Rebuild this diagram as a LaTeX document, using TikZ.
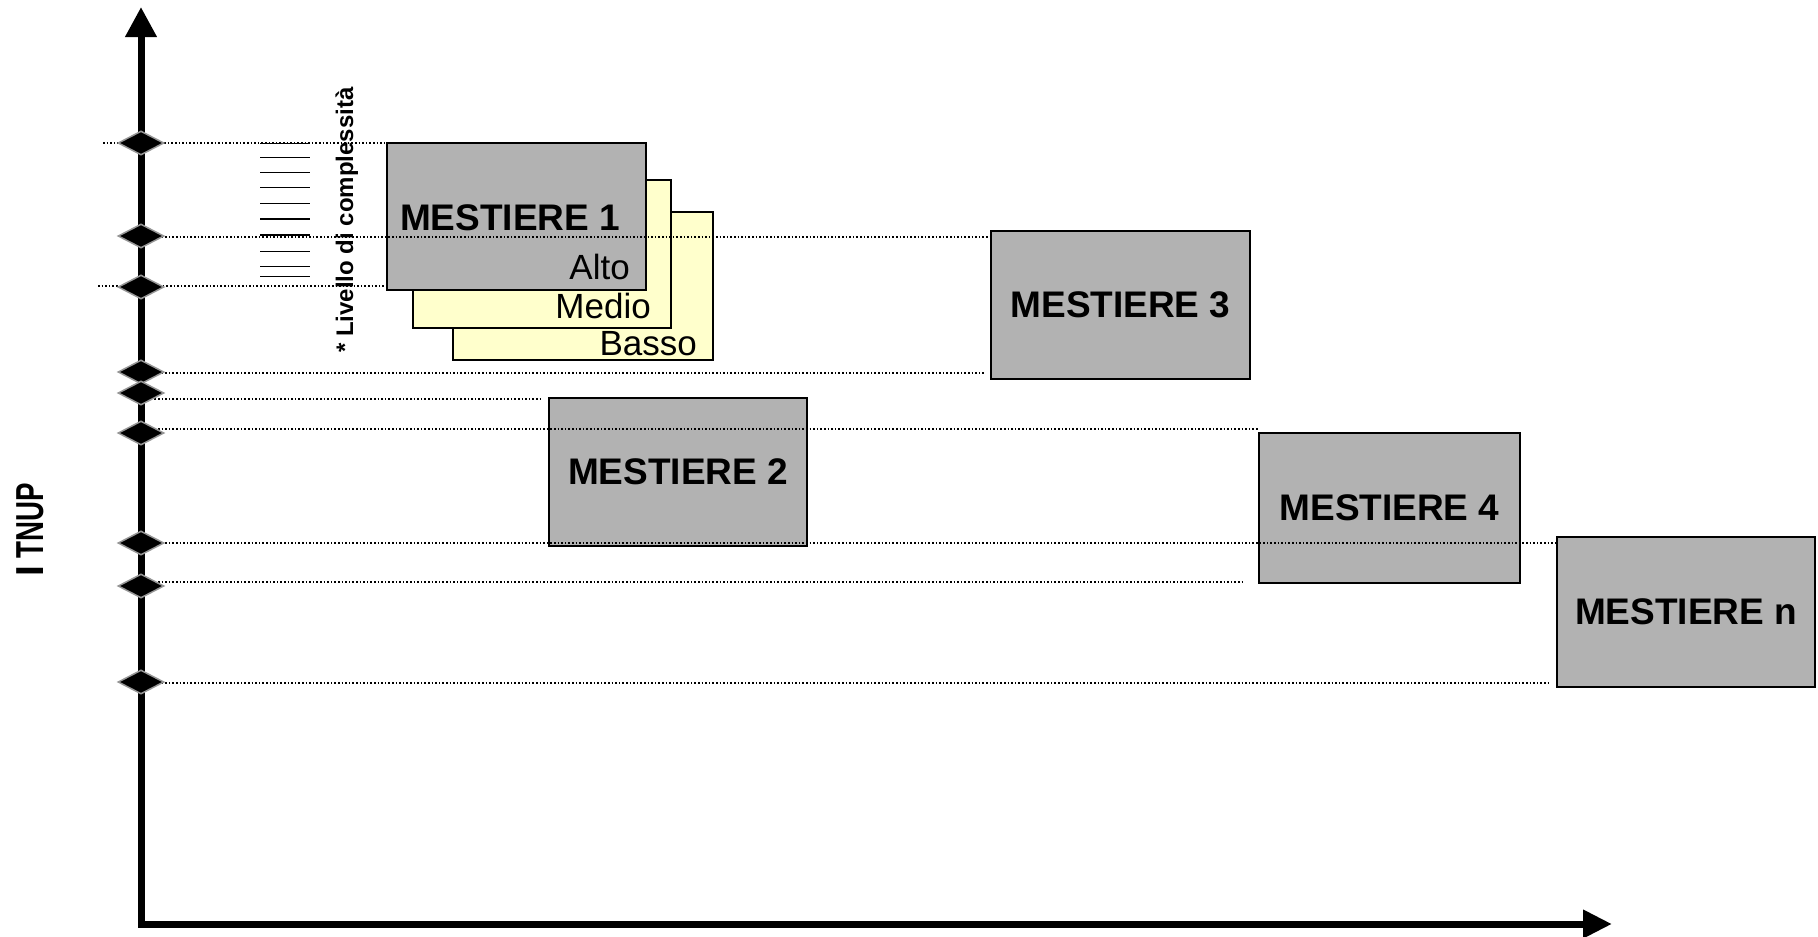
\documentclass[tikz,border=0pt]{standalone}
\usepackage{fontspec}
\usepackage{graphicx}
\setmainfont{Liberation Sans}
\usetikzlibrary{arrows.meta,shapes.geometric}
\definecolor{jobgray}{RGB}{178,178,178}
\definecolor{lvlyellow}{RGB}{255,255,204}
\definecolor{rimgray}{RGB}{150,150,150}
\begin{document}
\begin{tikzpicture}[x=1pt,y=-1pt,
  job/.style={draw=black, line width=2pt, fill=jobgray, anchor=north west, inner sep=0pt,
    font=\fontsize{37}{37}\selectfont\bfseries},
  lvl/.style={draw=black, line width=1.6pt, fill=lvlyellow, anchor=north west, inner sep=0pt},
  lvltxt/.style={anchor=base east, inner sep=0pt, font=\fontsize{35}{35}\selectfont},
  guide/.style={line width=1.5pt, dash pattern=on 1.5pt off 2.1pt},
  tickline/.style={line width=1.5pt},
  rombo/.style={diamond, draw=rimgray, line width=1.5pt, fill=black, minimum width=46pt,
    minimum height=24pt, inner sep=0pt},
]
\useasboundingbox (0,0) rectangle (1818,937);

% level cards behind MESTIERE 1
\node[lvl, minimum width=260pt, minimum height=148pt] (basso) at (452,211) {};
\node[lvl, minimum width=258pt, minimum height=148pt] (medio) at (412,179) {};
\node[job, minimum width=259pt, minimum height=147pt] (m1) at (386,142) {};
\node[font=\fontsize{37}{37}\selectfont\bfseries, anchor=base, inner sep=0pt] (m1t) at (510,230) {MESTIERE 1};
\node[lvltxt] (altot) at (630,279) {Alto};
\node[lvltxt] (mediot) at (651,318) {Medio};
\node[lvltxt] (bassot) at (697,355) {Basso};

% other jobs
\node[job, minimum width=258pt, minimum height=148pt] (m2) at (548,397) {MESTIERE 2};
\node[job, minimum width=259pt, minimum height=148pt] (m3) at (990,230) {MESTIERE 3};
\node[job, minimum width=261pt, minimum height=150pt] (m4) at (1258,432) {MESTIERE 4};
\node[job, minimum width=258pt, minimum height=150pt] (mn) at (1556,536) {MESTIERE n};

% guide line end points
\coordinate (g1a) at (103,143);  \coordinate (g1b) at (m1.west |- g1a);
\coordinate (g2a) at (140,237);  \coordinate (g2b) at (m3.west |- g2a);
\coordinate (g3a) at (98,286);   \coordinate (g3b) at (m1.west |- g3a);
\coordinate (g4a) at (140,373);  \coordinate (g4b) at (986,373);
\coordinate (g5a) at (140,399);  \coordinate (g5b) at (542,399);
\coordinate (g6a) at (140,429);  \coordinate (g6b) at (m4.west |- g6a);
\coordinate (g7a) at (140,543);  \coordinate (g7b) at (mn.west |- g7a);
\coordinate (g8a) at (140,582);  \coordinate (g8b) at (1243,582);
\coordinate (g9a) at (140,683);  \coordinate (g9b) at (1550,683);
\foreach \g in {1,...,9} \draw[guide] (g\g a) -- (g\g b);

% complexity scale ticks
\foreach \yy in {143.3,157.3,172.3,187.3,203.3,219,235,251.7,266.7,276.7}
  \draw[tickline] (260,\yy) -- (310,\yy);

\node[rotate=90, anchor=base west, inner sep=0pt, font=\fontsize{24}{24}\selectfont\bfseries]
  (livello) at (353,353) {* Livello di complessità};

% axes
\coordinate (ytip) at (141,7);
\coordinate (orig) at (141,924);
\coordinate (xtip) at (1612,924);
\draw[line width=7pt, line join=miter,
  {Triangle[length=30pt,width=30pt]}-{Triangle[length=29pt,width=27pt]}]
  (ytip) -- (orig) -- (xtip);

% diamonds on the axis
\foreach \yy [count=\i] in {143,236,287,372,393,433,543,586,682}
  \node[rombo] (d\i) at (141,\yy) {};

% axis label
\node[rotate=90, anchor=base west, inner sep=0pt, font=\fontsize{39}{39}\selectfont\bfseries]
  (punti) at (43,577) {I\hspace{7.7pt}\scalebox{0.71}[1]{TNUP}};
\end{tikzpicture}
\end{document}
